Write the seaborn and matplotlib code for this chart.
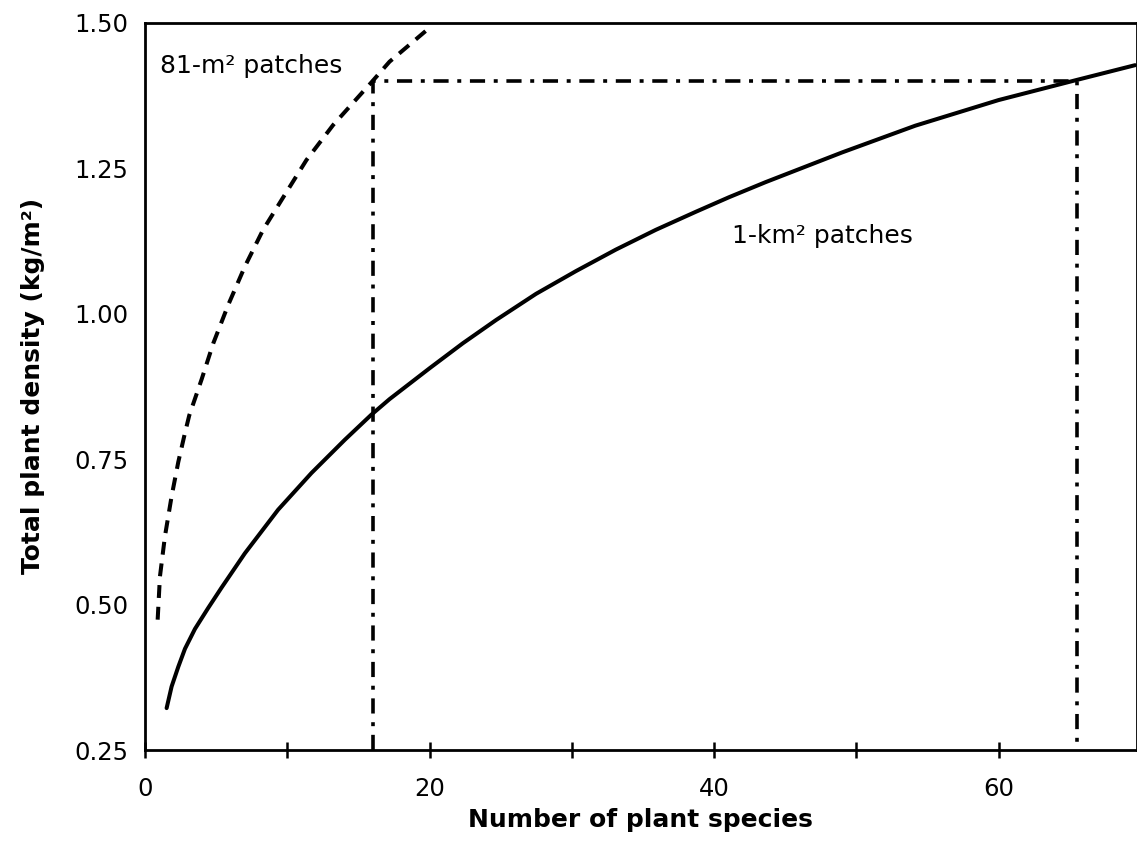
import numpy as np
import pandas as pd
import matplotlib
matplotlib.use("Agg")
import matplotlib.pyplot as plt
import seaborn as sns

# ---- data ----
km_species = [1.52, 1.87, 2.34, 2.81, 3.51, 4.44, 5.38, 7.02, 9.36, 11.70, 14.04, 15.9, 17.19,
              20.0, 22.34, 24.68, 27.49, 30.29, 33.10, 35.91, 38.72, 41.05, 43.63, 49.0,
              54.15, 60.0, 65.4, 69.6]
km_density = [0.322, 0.359, 0.393, 0.424, 0.458, 0.494, 0.529, 0.588, 0.663, 0.726, 0.783,
              0.826, 0.853, 0.906, 0.949, 0.989, 1.034, 1.073, 1.110, 1.144, 1.175, 1.200,
              1.226, 1.277, 1.323, 1.367, 1.401, 1.427]

m81_species = [0.89, 1.05, 1.40, 1.87, 2.34, 2.81, 3.11, 3.98, 4.80, 5.85, 7.02, 8.30,
               9.82, 11.35, 13.22, 15.09, 15.9, 17.19, 19.89]
m81_density = [0.474, 0.548, 0.617, 0.686, 0.745, 0.795, 0.825, 0.887, 0.949, 1.015, 1.081,
               1.144, 1.204, 1.264, 1.324, 1.375, 1.397, 1.433, 1.489]

guide_species = [16, 16, 65.5, 65.5]
guide_density = [0.25, 1.40, 1.40, 0.25]

x_ticks = [0, 20, 40, 60]
x_minor = [10, 30, 50]
y_ticks = [0.25, 0.50, 0.75, 1.00, 1.25, 1.50]
y_ticklabels = ["0.25", "0.50", "0.75", "1.00", "1.25", "1.50"]

label_81 = "81-m² patches"
label_1km = "1-km² patches"
xlabel = "Number of plant species"
ylabel = "Total plant density (kg/m²)"

# ---- plotting ----
sns.set_style("white")
plt.rcParams['font.family'] = ['DejaVu Sans']
plt.rcParams['text.color'] = 'black'
plt.rcParams['axes.labelcolor'] = 'black'
plt.rcParams['xtick.color'] = 'black'
plt.rcParams['ytick.color'] = 'black'

W, H = 1137, 844
fig = plt.figure(figsize=(W / 100, H / 100), dpi=100)
ax = fig.add_axes([145 / W, 1 - 750 / H, (1136.5 - 145) / W, (750 - 22.7) / H])

df_km = pd.DataFrame({"species": km_species, "density": km_density})
df_m = pd.DataFrame({"species": m81_species, "density": m81_density})
df_g = pd.DataFrame({"species": guide_species, "density": guide_density})

sns.lineplot(data=df_km, x="species", y="density", ax=ax, color="black",
             linewidth=2.9, sort=False, estimator=None)
ax.lines[-1].set_solid_joinstyle("round")
sns.lineplot(data=df_m, x="species", y="density", ax=ax, color="black",
             linewidth=2.9, sort=False, estimator=None)
ax.lines[-1].set_dashes([3.2, 2.2])
ax.lines[-1].set_dash_capstyle("butt")
ax.lines[-1].set_dash_joinstyle("round")
sns.lineplot(data=df_g, x="species", y="density", ax=ax, color="black",
             linewidth=2.6, sort=False, estimator=None)
ax.lines[-1].set_dashes([4.2, 2.4, 1.1, 2.4])

ax.set_xlim(0, 69.7)
ax.set_ylim(0.25, 1.50)

ax.set_xticks(x_ticks)
ax.set_xticklabels([str(v) for v in x_ticks])
ax.set_xticks(x_minor, minor=True)
ax.set_yticks(y_ticks)
ax.set_yticklabels(y_ticklabels)

ax.tick_params(axis="x", which="both", direction="inout", length=11.5, width=1.8,
               color="black", labelcolor="black", labelsize=17.5, pad=14, bottom=True)
ax.tick_params(axis="y", which="both", length=0, labelsize=17.5, pad=12,
               labelcolor="black")

for s in ax.spines.values():
    s.set_visible(True)
    s.set_color("black")
    s.set_linewidth(2.0)

ax.set_xlabel(xlabel, fontsize=18, fontweight="bold", labelpad=4.5, color="black")
ax.set_ylabel(ylabel, fontsize=18, fontweight="bold", labelpad=21, color="black")

ax.text(1.05, 1.414, label_81, fontsize=18, ha="left", va="baseline", color="black")
ax.text(41.26, 1.121, label_1km, fontsize=18, ha="left", va="baseline", color="black")

fig.savefig("out.png", dpi=100)
